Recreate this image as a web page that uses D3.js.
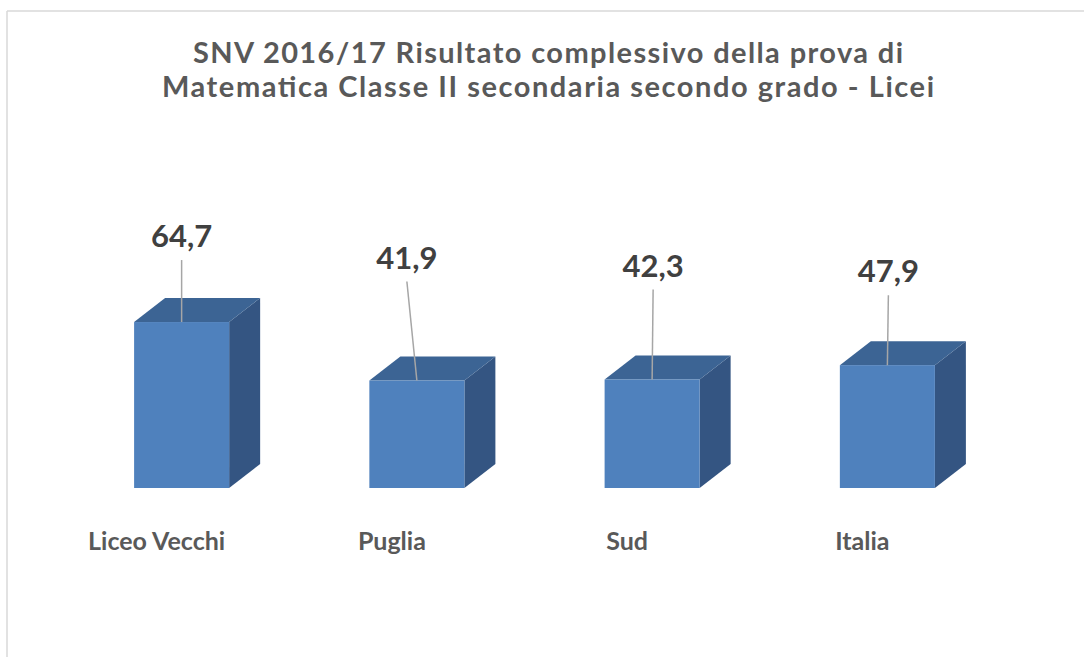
<!DOCTYPE html>
<html>
<head>
<meta charset="utf-8">
<script src="https://cdn.jsdelivr.net/npm/d3@7"></script>
<style>
html,body{margin:0;padding:0;background:#fff;}
svg{display:block;}
</style>
</head>
<body>
<svg id="chart" width="1084" height="657"></svg>
<script>
// ---- data ----
const categories = ["Liceo Vecchi", "Puglia", "Sud", "Italia"];
const values = [64.7, 41.9, 42.3, 47.9];
const valueLabels = ["64,7", "41,9", "42,3", "47,9"];
const titleLines = ["SNV 2016/17 Risultato complessivo della prova di",
                    "Matematica Classe II secondaria secondo grado - Licei"];

// ---- layout (manual label placement as in the original) ----
const labelLift = [75, 112, 103, 83];   // px from bar top to label baseline
const labelShiftX = [0, -10, 1, 1];     // px from bar centre
const titleWidths = [710, 772];

const W = 1084, H = 657;
const svg = d3.select("#chart");
const font = "Lato, 'Open Sans', sans-serif";

// frame
svg.append("line").attr("x1", 7).attr("y1", 11).attr("x2", W).attr("y2", 11)
  .attr("stroke", "#d9d9d9").attr("stroke-width", 1.5);
svg.append("line").attr("x1", 7).attr("y1", 11).attr("x2", 7).attr("y2", H)
  .attr("stroke", "#d9d9d9").attr("stroke-width", 1.5);

// title
const titleG = svg.append("g");
const titleBase = [63, 97];
titleLines.forEach((t, i) => {
  titleG.append("text")
    .attr("x", 548).attr("y", titleBase[i])
    .attr("text-anchor", "middle")
    .attr("font-family", font).attr("font-weight", "bold")
    .attr("font-size", 29).attr("fill", "#595959")
    .attr("textLength", titleWidths[i]).attr("lengthAdjust", "spacing")
    .text(t);
});

// scales
const x = d3.scaleBand().domain(categories).range([64, 1005])
  .paddingInner(0.596).paddingOuter(0.298);
const y = d3.scaleLinear().domain([0, 70]).range([488, 488 - 70 * 2.565]);

const depthX = 31, depthY = 24;
const cFront = "#4f81bd", cTop = "#3c6494", cSide = "#345582";

const data = categories.map((c, i) => ({c, v: values[i], lab: valueLabels[i], i}));

const bars = svg.append("g").selectAll("g").data(data).join("g");

bars.each(function(d) {
  const g = d3.select(this);
  const x0 = x(d.c), x1 = x0 + x.bandwidth();
  const yt = y(d.v), yb = y(0);
  g.append("path")
    .attr("d", `M${x1},${yt}L${x1 + depthX},${yt - depthY}L${x1 + depthX},${yb - depthY}L${x1},${yb}Z`)
    .attr("fill", cSide);
  g.append("path")
    .attr("d", `M${x0},${yt}L${x0 + depthX},${yt - depthY}L${x1 + depthX},${yt - depthY}L${x1},${yt}Z`)
    .attr("fill", cTop);
  g.append("rect")
    .attr("x", x0).attr("y", yt).attr("width", x.bandwidth()).attr("height", yb - yt)
    .attr("fill", cFront);
});

// leader lines and value labels
bars.each(function(d) {
  const g = d3.select(this);
  const cx = x(d.c) + x.bandwidth() / 2;
  const yt = y(d.v);
  const lx = cx + labelShiftX[d.i];
  const ly = yt - labelLift[d.i];
  g.append("line")
    .attr("x1", lx).attr("y1", ly + 13)
    .attr("x2", cx).attr("y2", yt)
    .attr("stroke", "#a6a6a6").attr("stroke-width", 1.5);
  g.append("text")
    .attr("x", lx).attr("y", ly)
    .attr("text-anchor", "middle")
    .attr("font-family", font).attr("font-weight", "bold")
    .attr("font-size", 31).attr("fill", "#404040")
    .text(d.lab);
});

// category labels
svg.append("g").selectAll("text").data(data).join("text")
  .attr("x", d => x(d.c) + x.bandwidth() / 2 - 25)
  .attr("y", 550)
  .attr("text-anchor", "middle")
  .attr("font-family", font).attr("font-weight", "bold")
  .attr("font-size", 25).attr("fill", "#595959")
  .text(d => d.c);
</script>
</body>
</html>
